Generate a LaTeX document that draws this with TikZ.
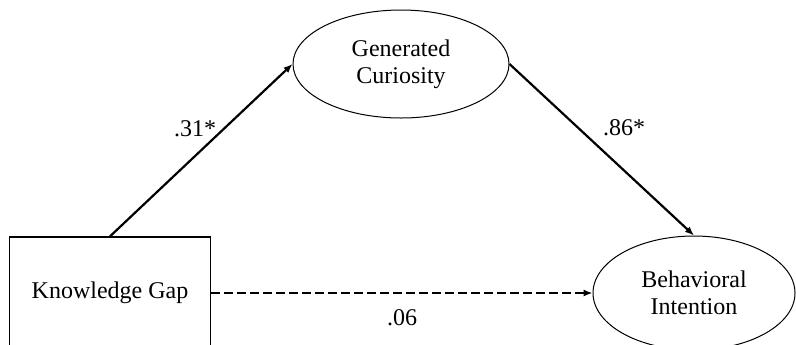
\documentclass[tikz,border=0pt]{standalone}
\usepackage{fontspec}
\setmainfont{Liberation Serif}
\usetikzlibrary{positioning,arrows.meta,shapes.geometric}

\begin{document}
\begin{tikzpicture}[
    x=0.5pt, y=-0.5pt,
    txt/.style={font=\fontsize{12}{13.5}\selectfont},
    latent/.style={txt, draw, ellipse, align=center, inner sep=0pt, line width=0.5pt},
    obs/.style={txt, draw, align=center, line width=0.65pt, minimum width=100.5pt, minimum height=56pt},
    arr/.style={-{Latex[length=4.5pt,width=3.6pt]}, line width=1.1pt},
    coef/.style={txt, inner sep=0pt}
]
\useasboundingbox (0,0) rectangle (796,344);
\clip (0,0) rectangle (796,344);

% Variables
\node[obs] (gap) at (110,293) {Knowledge Gap};
\node[latent, minimum width=108pt, minimum height=54pt] (curio) at (401,64) {Generated\\Curiosity};
\node[latent, minimum width=101pt, minimum height=57pt] (intent) at (694,293) {Behavioral\\Intention};

% Paths
\draw[arr] (gap.north) -- (curio.west);
\draw[arr] (curio.east) -- (intent.north);
\draw[arr, line width=1.2pt, dash pattern=on 4.5pt off 2pt] (gap.east) -- (intent.west);

% Coefficients
\node[coef] (c1) at (195,129) {.31*};
\node[coef] (c2) at (624,128) {.86*};
\node[coef] (c3) at (402,318) {.06};
\end{tikzpicture}
\end{document}
